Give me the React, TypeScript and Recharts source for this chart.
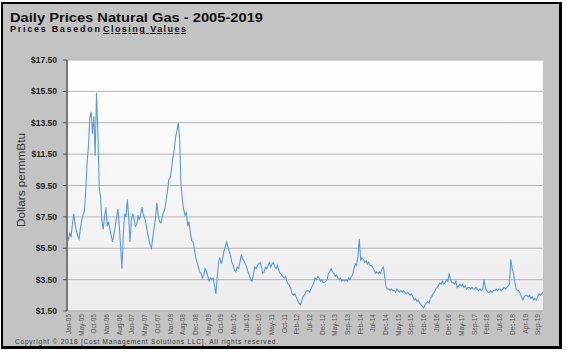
import React from "react";
import { LineChart, Line, XAxis, YAxis, CartesianGrid } from "recharts";

// Semi-monthly closing prices ($/mmBtu)
const gas2005 = [6.3, 6.0, 6.5, 6.2, 7.0, 7.7, 7.1, 6.6, 6.3, 6.1, 6.8, 7.3, 7.6, 7.9, 9.2, 11.0, 12.0, 13.8, 14.2, 12.8, 13.9, 11.4, 15.4, 13.0];
const gas2006 = [9.4, 8.8, 7.3, 6.7, 7.5, 8.1, 6.9, 7.2, 6.7, 6.3, 5.9, 6.4, 6.9, 7.5, 8.0, 6.9, 5.6, 4.2, 6.4, 7.7, 7.5, 8.6, 7.5, 5.9];
const gas2007 = [7.3, 7.7, 7.4, 6.9, 7.0, 7.6, 7.3, 7.7, 8.1, 7.6, 7.4, 7.0, 6.5, 6.1, 5.7, 5.5, 6.2, 6.8, 7.4, 8.4, 7.6, 7.2, 7.1, 7.5];
const gas2008 = [7.8, 8.0, 8.6, 9.2, 9.9, 10.0, 10.6, 11.3, 11.8, 12.6, 13.0, 13.5, 12.4, 9.6, 8.6, 8.0, 7.6, 7.8, 6.9, 7.2, 6.5, 6.0, 5.9, 5.5];
const gas2009 = [4.9, 4.6, 4.3, 4.0, 3.9, 3.6, 3.8, 4.2, 4.0, 3.7, 3.4, 3.6, 3.5, 3.6, 3.1, 2.6, 3.6, 4.6, 4.9, 4.5, 4.8, 5.3, 5.6, 5.9];
const gas2010 = [5.6, 5.3, 5.0, 4.6, 4.4, 4.1, 4.0, 4.3, 4.2, 4.6, 5.1, 4.8, 4.7, 4.5, 4.3, 4.0, 3.8, 3.5, 3.4, 3.8, 4.3, 4.2, 4.4, 4.5];
const gas2011 = [4.6, 4.3, 3.9, 4.0, 4.3, 4.2, 4.4, 4.6, 4.3, 4.5, 4.6, 4.3, 4.2, 4.4, 4.1, 3.9, 3.8, 3.7, 3.6, 3.7, 3.4, 3.2, 3.1, 2.9];
const gas2012 = [2.6, 2.5, 2.6, 2.4, 2.2, 2.0, 1.9, 2.1, 2.4, 2.5, 2.7, 2.8, 2.8, 2.7, 2.9, 3.1, 3.3, 3.6, 3.5, 3.7, 3.6, 3.4, 3.5, 3.3];
const gas2013 = [3.3, 3.4, 3.5, 3.9, 4.0, 4.2, 4.0, 3.9, 3.7, 3.8, 3.6, 3.5, 3.6, 3.4, 3.5, 3.4, 3.5, 3.4, 3.6, 3.5, 3.7, 3.8, 4.2, 4.5];
const gas2014 = [4.4, 5.0, 6.1, 4.7, 4.9, 4.8, 4.6, 4.7, 4.5, 4.6, 4.4, 4.4, 4.3, 4.1, 3.9, 4.0, 3.9, 4.0, 3.9, 4.2, 4.3, 3.6, 3.0, 2.9];
const gas2015 = [2.9, 2.8, 2.9, 2.8, 2.8, 2.7, 2.9, 2.8, 2.7, 2.8, 2.7, 2.8, 2.7, 2.6, 2.7, 2.6, 2.5, 2.6, 2.4, 2.2, 2.3, 2.1, 2.2, 2.0];
const gas2016 = [1.9, 1.8, 1.7, 1.9, 2.0, 2.1, 2.0, 2.3, 2.4, 2.6, 2.7, 2.9, 3.0, 3.1, 3.3, 3.2, 3.4, 3.2, 3.3, 3.5, 3.4, 3.9, 3.5, 3.3];
const gas2017 = [3.3, 3.2, 3.4, 3.0, 3.1, 3.2, 3.1, 3.2, 3.0, 3.1, 2.9, 3.0, 3.0, 2.9, 3.0, 2.9, 2.9, 3.0, 2.9, 2.8, 2.9, 2.8, 2.9, 3.5];
const gas2018 = [3.0, 2.8, 2.7, 2.7, 2.8, 2.7, 2.8, 2.8, 2.9, 2.8, 2.9, 2.9, 2.8, 2.9, 3.0, 2.9, 3.0, 3.1, 3.2, 4.8, 4.2, 3.9, 3.3, 2.9];
const gas2019 = [2.8, 2.8, 2.6, 2.4, 2.2, 2.4, 2.5, 2.5, 2.4, 2.5, 2.3, 2.4, 2.2, 2.3, 2.2, 2.4, 2.6, 2.5, 2.6, 2.7];

const years: [number, number[]][] = [
  [2005, gas2005], [2006, gas2006], [2007, gas2007], [2008, gas2008], [2009, gas2009],
  [2010, gas2010], [2011, gas2011], [2012, gas2012], [2013, gas2013], [2014, gas2014],
  [2015, gas2015], [2016, gas2016], [2017, gas2017], [2018, gas2018], [2019, gas2019],
];

const priceTicks = [1.5, 3.5, 5.5, 7.5, 9.5, 11.5, 13.5, 15.5, 17.5];

const dateLabels = [
  "Jan-05", "May-05", "Oct-05", "Mar-06", "Aug-06", "Jan-07", "May-07", "Oct-07",
  "Mar-08", "Aug-08", "Dec-08", "May-09", "Oct-09", "Mar-10", "Jul-10", "Dec-10",
  "May-11", "Oct-11", "Feb-12", "Jul-12", "Dec-12", "May-13", "Sep-13", "Feb-14",
  "Jul-14", "Dec-14", "May-15", "Sep-15", "Feb-16", "Jul-16", "Dec-16", "May-17",
  "Sep-17", "Feb-18", "Jul-18", "Dec-18", "Apr-19", "Sep-19",
];

// labels sit every ~100 trading days
const labelStart = 2005.06;
const labelStep = 0.394;

const data = years.flatMap(([yr, vals]) =>
  vals.map((price, k) => ({ t: yr + k / 24, price }))
);
const lastT = data[data.length - 1].t;
const dateTicks = dateLabels.map((_, i) => labelStart + i * labelStep);

const font = "'Liberation Sans', Arial, sans-serif";

const DateTick = (props: any) => {
  const { x, y, payload } = props;
  const idx = Math.round((payload.value - labelStart) / labelStep);
  return (
    <text
      x={x}
      y={y}
      dy="0.33em"
      transform={`rotate(-90, ${x}, ${y})`}
      textAnchor="end"
      fontFamily={font}
      fontSize={6.5}
      fill="#555"
    >
      {dateLabels[idx]}
    </text>
  );
};

export default function App() {
  return (
    <div
      style={{
        position: "absolute",
        left: 0,
        top: 0,
        width: 566,
        height: 353,
        background: "#fff",
        fontFamily: font,
      }}
    >
      <div
        style={{
          position: "absolute",
          left: 1,
          top: 2,
          width: 556,
          height: 342,
          background: "#c3c3c3",
          borderStyle: "solid",
          borderColor: "#000",
          borderWidth: "2px 3px 3px 2px",
        }}
      />
      <div style={{ position: "absolute", left: 0, top: 0 }}>
        <LineChart
          width={566}
          height={353}
          data={data}
          margin={{ top: 60, right: 23, bottom: 0, left: 7 }}
        >
          <defs>
            <linearGradient id="plotBg" x1="0" y1="0" x2="0" y2="1">
              <stop offset="0%" stopColor="#ffffff" />
              <stop offset="100%" stopColor="#ececec" />
            </linearGradient>
          </defs>
          <CartesianGrid
            vertical={false}
            stroke="#b5b5b5"
            strokeWidth={1}
            fill="url(#plotBg)"
            fillOpacity={1}
          />
          <XAxis
            dataKey="t"
            type="number"
            domain={[2005, lastT]}
            ticks={dateTicks}
            interval={0}
            height={42}
            tick={<DateTick />}
            tickSize={0}
            tickMargin={3}
            tickLine={false}
            axisLine={{ stroke: "#b5b5b5" }}
          />
          <YAxis
            type="number"
            domain={[1.5, 17.5]}
            ticks={priceTicks}
            interval={0}
            width={60}
            tickSize={4}
            tickMargin={6}
            tickLine={{ stroke: "#555" }}
            axisLine={{ stroke: "#777", strokeWidth: 2 }}
            tickFormatter={(v: number) => `$${v.toFixed(2)}`}
            tick={{ fontFamily: font, fontSize: 8.5, fontWeight: "bold", fill: "#222" }}
          />
          <Line
            type="linear"
            dataKey="price"
            stroke="#5b9bd5"
            strokeWidth={1.1}
            dot={false}
            isAnimationActive={false}
          />
        </LineChart>
      </div>
      <svg
        width={566}
        height={353}
        style={{ position: "absolute", left: 0, top: 0, pointerEvents: "none" }}
      >
        <text x={10} y={22} fontFamily={font} fontSize={13} fontWeight="bold" fill="#111" textLength={253} lengthAdjust="spacingAndGlyphs">
          Daily Prices Natural Gas - 2005-2019
        </text>
        <text x={10} y={32} fontFamily={font} fontSize={9} fontWeight="bold" fill="#111" textLength={90} lengthAdjust="spacing">
          Prices Basedon
        </text>
        <text x={103} y={32} fontFamily={font} fontSize={9} fontWeight="bold" fill="#111" textLength={83} lengthAdjust="spacing" textDecoration="underline">
          Closing Values
        </text>
        <text
          x={21}
          y={180}
          transform="rotate(-90, 21, 180)"
          textAnchor="middle"
          dy="0.35em"
          fontFamily={font}
          fontSize={10}
          fill="#333"
          textLength={94}
          lengthAdjust="spacingAndGlyphs"
        >
          Dollars permmBtu
        </text>
        <text x={15} y={344} fontFamily={font} fontSize={6.5} fill="#333" textLength={263} lengthAdjust="spacing">
          Copyright © 2018 [Cost Management Solutions LLC].  All rights reserved.
        </text>
      </svg>
    </div>
  );
}
